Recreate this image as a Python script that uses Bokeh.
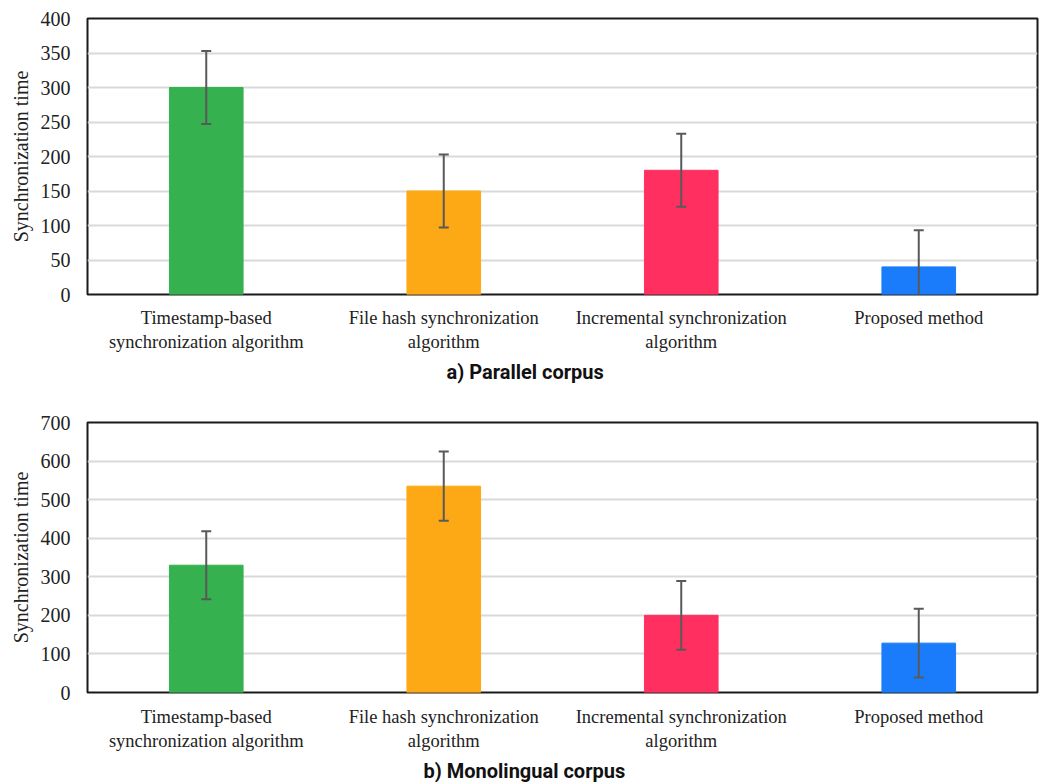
from bokeh.plotting import figure
from bokeh.layouts import column
from bokeh.models import ColumnDataSource, FixedTicker, Range1d, Title
from bokeh.embed import file_html
from bokeh.resources import INLINE

categories = ["Timestamp-based\nsynchronization algorithm",
              "File hash synchronization\nalgorithm",
              "Incremental synchronization\nalgorithm",
              "Proposed method"]
colors = ["#36B14F", "#FDA915", "#FF3060", "#1A7CFB"]

parallel_values = [300, 150, 180, 40]
parallel_errors = [53, 53, 53, 53]
mono_values = [330, 535, 200, 128]
mono_errors = [88, 90, 89, 89]

SERIF = "Liberation Serif"


def make_chart(values, errors, ymax, ystep, caption, frame_h, top_b, bottom_b, cap_offset, label_standoff):
    xs = list(range(len(categories)))
    src = ColumnDataSource(dict(
        x=xs, top=values, color=colors,
        upper=[v + e for v, e in zip(values, errors)],
        lower=[v - e for v, e in zip(values, errors)],
    ))
    p = figure(frame_width=950, frame_height=frame_h,
               min_border_left=87, min_border_right=3,
               min_border_top=top_b, min_border_bottom=bottom_b,
               x_range=Range1d(-0.5, len(categories) - 0.5),
               y_range=Range1d(0, ymax),
               output_backend="svg", toolbar_location=None)
    p.vbar(x="x", top="top", width=0.31, color="color", source=src)
    p.segment(x0="x", x1="x", y0="lower", y1="upper", line_color="#595959",
              line_width=2, source=src)
    p.scatter(x="x", y="upper", marker="dash", size=10, line_color="#595959",
              line_width=2, source=src)
    p.scatter(x="x", y="lower", marker="dash", size=10, line_color="#595959",
              line_width=2, source=src)

    p.outline_line_color = "#1a1a1a"
    p.outline_line_width = 2
    p.xgrid.grid_line_color = None
    p.ygrid.grid_line_color = "#D9D9D9"
    p.ygrid.grid_line_width = 2

    p.yaxis.ticker = FixedTicker(ticks=list(range(0, ymax + 1, ystep)))
    p.yaxis.axis_line_color = None
    p.yaxis.major_tick_line_color = None
    p.yaxis.minor_tick_line_color = None
    p.yaxis.major_label_text_font = SERIF
    p.yaxis.major_label_text_font_size = "20px"
    p.yaxis.major_label_text_color = "#222222"
    p.yaxis.major_label_standoff = 11
    p.yaxis.axis_label = "Synchronization time"
    p.yaxis.axis_label_text_font = SERIF
    p.yaxis.axis_label_text_font_size = "20px"
    p.yaxis.axis_label_text_font_style = "normal"
    p.yaxis.axis_label_text_color = "#222222"
    p.yaxis.axis_label_standoff = 6

    p.xaxis.ticker = FixedTicker(ticks=xs)
    p.xaxis.major_label_overrides = {i: c for i, c in zip(xs, categories)}
    p.xaxis.axis_line_color = None
    p.xaxis.major_tick_line_color = None
    p.xaxis.minor_tick_line_color = None
    p.xaxis.major_label_text_font = SERIF
    p.xaxis.major_label_text_font_size = "18.5px"
    p.xaxis.major_label_text_color = "#222222"
    p.xaxis.major_label_standoff = label_standoff

    cap = Title(text=caption, align="left", offset=cap_offset,
                text_font="Roboto", text_font_size="20px",
                text_font_style="bold", text_color="#111111", standoff=6)
    p.add_layout(cap, "below")
    return p


p1 = make_chart(parallel_values, parallel_errors, 400, 50, "a) Parallel corpus",
                frame_h=276, top_b=18, bottom_b=104, cap_offset=359, label_standoff=7)
p2 = make_chart(mono_values, mono_errors, 700, 100, "b) Monolingual corpus",
                frame_h=270, top_b=24, bottom_b=88, cap_offset=336, label_standoff=8)

layout = column(p1, p2, spacing=0)
open("out.html", "w").write(file_html(layout, INLINE))
